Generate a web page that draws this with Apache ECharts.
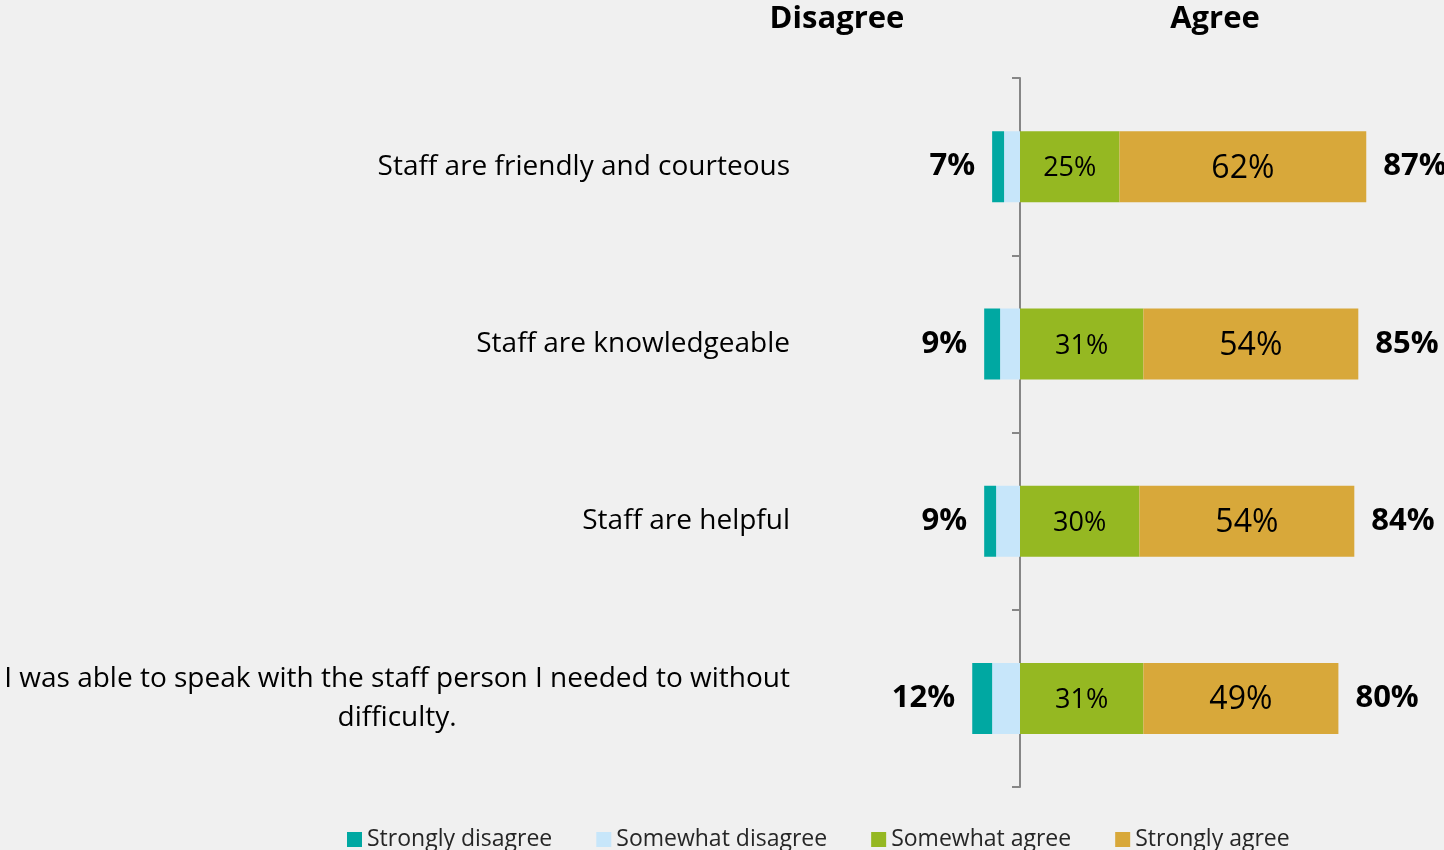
<!DOCTYPE html>
<html>
<head>
<meta charset="utf-8">
<script src="https://cdn.jsdelivr.net/npm/echarts@6/dist/echarts.min.js"></script>
<style>
html,body{margin:0;padding:0;background:#f0f0f0;}
#chart{width:1444px;height:850px;}
</style>
</head>
<body>
<div id="chart"></div>
<script>
var categories = [
  'Staff are friendly and courteous',
  'Staff are knowledgeable',
  'Staff are helpful',
  'I was able to speak with the staff person I needed to without\ndifficulty.'
];
var stronglyDisagree = [3, 4, 3, 5];
var somewhatDisagree = [4, 5, 6, 7];
var somewhatAgree = [25, 31, 30, 31];
var stronglyAgree = [62, 54, 54, 49];
var totalDisagree = [7, 9, 9, 12];
var totalAgree = [87, 85, 84, 80];
var legendNames = ['Strongly disagree', 'Somewhat disagree', 'Somewhat agree', 'Strongly agree'];
var headers = ['Disagree', 'Agree'];

var FONT = 'Open Sans';
var chart = echarts.init(document.getElementById('chart'));

var option = {
  backgroundColor: '#f0f0f0',
  animation: false,
  textStyle: { fontFamily: FONT },
  title: [
    { text: headers[0], left: 832, top: -1, textAlign: 'center',
      textStyle: { fontFamily: FONT, fontWeight: 'bold', fontSize: 31, color: '#000' } },
    { text: headers[1], left: 1210, top: -1, textAlign: 'center',
      textStyle: { fontFamily: FONT, fontWeight: 'bold', fontSize: 31, color: '#000' } }
  ],
  legend: {
    data: legendNames,
    bottom: -6,
    left: 342,
    icon: 'rect',
    itemWidth: 15,
    itemHeight: 15,
    itemGap: 44,
    textStyle: { fontFamily: FONT, fontSize: 23, color: '#262626' }
  },
  grid: { left: 821, right: 26, top: 78, bottom: 63, containLabel: false },
  xAxis: { type: 'value', min: -50, max: 100, show: false },
  yAxis: [
    {
      type: 'category', data: categories, inverse: true, position: 'left',
      axisLine: { show: false, onZero: false }, axisTick: { show: false },
      axisLabel: {
        margin: 31, fontSize: 28, color: '#000', fontFamily: FONT, lineHeight: 39,
        formatter: function (v) { return '{c|' + v + '}'; },
        rich: { c: { align: 'center', fontSize: 28, color: '#000', fontFamily: FONT, lineHeight: 39 } }
      }
    },
    {
      type: 'category', data: categories, inverse: true, position: 'right',
      axisLine: { show: true, onZero: true, lineStyle: { color: '#868686', width: 2 } },
      axisTick: { show: true, inside: true, length: 8, lineStyle: { color: '#868686', width: 2 } },
      axisLabel: { show: false }
    }
  ],
  series: [
    {
      name: 'Somewhat disagree', type: 'bar', stack: 'x', barWidth: 71,
      data: somewhatDisagree.map(function (v) { return -v; }),
      itemStyle: { color: '#c7e6fa' }
    },
    {
      name: 'Strongly disagree', type: 'bar', stack: 'x', barWidth: 71,
      data: stronglyDisagree.map(function (v) { return -v; }),
      itemStyle: { color: '#00a8a2' },
      label: {
        show: true, position: 'left', distance: 17,
        fontFamily: FONT, fontWeight: 'bold', fontSize: 31, color: '#000',
        formatter: function (p) { return totalDisagree[p.dataIndex] + '%'; }
      }
    },
    {
      name: 'Somewhat agree', type: 'bar', stack: 'x', barWidth: 71,
      data: somewhatAgree,
      itemStyle: { color: '#95b822' },
      label: { show: true, position: 'inside', offset: [0, 2], fontFamily: FONT, fontSize: 27, color: '#000',
        formatter: '{c}%' }
    },
    {
      name: 'Strongly agree', type: 'bar', stack: 'x', barWidth: 71,
      data: stronglyAgree,
      itemStyle: { color: '#d8a83a' },
      label: { show: true, position: 'inside', offset: [0, 2], fontFamily: FONT, fontSize: 32, color: '#000',
        formatter: '{c}%' }
    },
    {
      name: 'Agree total', type: 'bar', stack: 'x', barWidth: 71,
      data: totalAgree.map(function () { return 0; }),
      itemStyle: { color: 'transparent' },
      label: {
        show: true, position: 'right', distance: 17,
        fontFamily: FONT, fontWeight: 'bold', fontSize: 31, color: '#000',
        formatter: function (p) { return totalAgree[p.dataIndex] + '%'; }
      }
    }
  ]
};
chart.setOption(option);
</script>
</body>
</html>
